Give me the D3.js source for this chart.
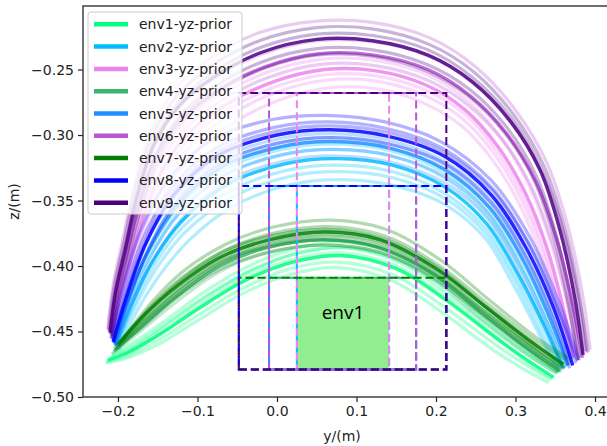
<!DOCTYPE html>
<html>
<head>
<meta charset="utf-8">
<script src="https://cdn.jsdelivr.net/npm/d3@7"></script>
<style>
  body { margin: 0; background: #fff; }
  svg { display: block; }
</style>
</head>
<body>
<svg id="chart" width="607" height="446"></svg>
<script>
// Sampled y-z trajectories (metres) for each environment prior.
const envNames = ["env1-yz-prior", "env2-yz-prior", "env3-yz-prior", "env4-yz-prior", "env5-yz-prior",
                  "env6-yz-prior", "env7-yz-prior", "env8-yz-prior", "env9-yz-prior"];
const envColors = ["#00ff7f", "#00bfff", "#ee82ee", "#3cb371", "#1e90ff", "#ba55d3", "#008000", "#0000ff", "#4b0082"];

const env1Paths = [
  [[-0.213,-0.472],[-0.187,-0.466],[-0.147,-0.452],[-0.100,-0.433],[-0.040,-0.411],[0.020,-0.397],[0.080,-0.392],[0.150,-0.402],[0.215,-0.427],[0.280,-0.457],[0.320,-0.474],[0.348,-0.485]],
  [[-0.210,-0.470],[-0.183,-0.463],[-0.143,-0.447],[-0.097,-0.427],[-0.037,-0.405],[0.023,-0.391],[0.083,-0.386],[0.153,-0.397],[0.218,-0.423],[0.283,-0.454],[0.323,-0.471],[0.352,-0.482]],
  [[-0.215,-0.473],[-0.190,-0.469],[-0.150,-0.457],[-0.103,-0.439],[-0.043,-0.417],[0.017,-0.402],[0.077,-0.397],[0.147,-0.407],[0.212,-0.432],[0.277,-0.461],[0.317,-0.477],[0.345,-0.487]],
  [[-0.208,-0.468],[-0.182,-0.461],[-0.142,-0.445],[-0.095,-0.425],[-0.035,-0.404],[0.025,-0.390],[0.085,-0.386],[0.155,-0.396],[0.220,-0.420],[0.285,-0.452],[0.325,-0.470],[0.354,-0.481]],
  [[-0.212,-0.471],[-0.186,-0.465],[-0.146,-0.451],[-0.099,-0.431],[-0.040,-0.409],[0.020,-0.395],[0.080,-0.390],[0.150,-0.400],[0.215,-0.425],[0.280,-0.456],[0.318,-0.475],[0.346,-0.486]],
  [[-0.216,-0.474],[-0.192,-0.471],[-0.153,-0.461],[-0.106,-0.444],[-0.046,-0.422],[0.014,-0.407],[0.074,-0.401],[0.144,-0.411],[0.209,-0.436],[0.274,-0.465],[0.314,-0.480],[0.342,-0.489]],
  [[-0.207,-0.467],[-0.180,-0.458],[-0.139,-0.441],[-0.092,-0.420],[-0.032,-0.399],[0.028,-0.386],[0.088,-0.382],[0.158,-0.393],[0.222,-0.418],[0.287,-0.450],[0.327,-0.468],[0.356,-0.480]]
];
const env2Paths = [
  [[-0.203,-0.461],[-0.185,-0.432],[-0.158,-0.398],[-0.120,-0.366],[-0.063,-0.338],[0.010,-0.322],[0.075,-0.318],[0.145,-0.323],[0.212,-0.340],[0.264,-0.368],[0.302,-0.405],[0.335,-0.444],[0.360,-0.478]],
  [[-0.201,-0.463],[-0.182,-0.436],[-0.154,-0.404],[-0.115,-0.374],[-0.058,-0.348],[0.013,-0.332],[0.078,-0.328],[0.148,-0.333],[0.213,-0.349],[0.262,-0.375],[0.298,-0.410],[0.330,-0.448],[0.356,-0.480]],
  [[-0.204,-0.460],[-0.187,-0.429],[-0.160,-0.393],[-0.123,-0.360],[-0.066,-0.331],[0.008,-0.315],[0.073,-0.311],[0.144,-0.316],[0.211,-0.333],[0.265,-0.362],[0.305,-0.400],[0.338,-0.441],[0.363,-0.477]],
  [[-0.202,-0.462],[-0.183,-0.434],[-0.156,-0.401],[-0.118,-0.370],[-0.060,-0.343],[0.012,-0.327],[0.076,-0.323],[0.146,-0.328],[0.212,-0.345],[0.263,-0.372],[0.300,-0.408],[0.333,-0.446],[0.358,-0.479]],
  [[-0.199,-0.464],[-0.180,-0.439],[-0.150,-0.409],[-0.110,-0.380],[-0.054,-0.354],[0.016,-0.338],[0.080,-0.334],[0.150,-0.339],[0.214,-0.354],[0.262,-0.379],[0.296,-0.413],[0.328,-0.450],[0.354,-0.481]],
  [[-0.205,-0.459],[-0.188,-0.427],[-0.162,-0.390],[-0.125,-0.356],[-0.068,-0.327],[0.006,-0.311],[0.072,-0.307],[0.143,-0.312],[0.211,-0.329],[0.266,-0.359],[0.307,-0.398],[0.340,-0.440],[0.365,-0.476]]
];
const env3Paths = [
  [[-0.207,-0.455],[-0.199,-0.428],[-0.185,-0.398],[-0.167,-0.360],[-0.144,-0.326],[-0.110,-0.298],[-0.062,-0.276],[-0.003,-0.259],[0.060,-0.250],[0.125,-0.251],[0.188,-0.262],[0.237,-0.281],[0.278,-0.309],[0.313,-0.345],[0.340,-0.387],[0.360,-0.432],[0.373,-0.470]],
  [[-0.205,-0.457],[-0.196,-0.431],[-0.182,-0.403],[-0.163,-0.366],[-0.139,-0.333],[-0.105,-0.306],[-0.057,-0.284],[0.001,-0.267],[0.063,-0.258],[0.127,-0.259],[0.187,-0.270],[0.234,-0.288],[0.274,-0.315],[0.308,-0.350],[0.335,-0.391],[0.356,-0.435],[0.370,-0.472]],
  [[-0.209,-0.453],[-0.201,-0.425],[-0.188,-0.394],[-0.170,-0.354],[-0.148,-0.319],[-0.115,-0.290],[-0.067,-0.268],[-0.007,-0.251],[0.057,-0.242],[0.123,-0.243],[0.189,-0.254],[0.240,-0.274],[0.283,-0.303],[0.318,-0.340],[0.345,-0.383],[0.365,-0.429],[0.377,-0.468]],
  [[-0.206,-0.456],[-0.198,-0.430],[-0.184,-0.400],[-0.165,-0.363],[-0.142,-0.329],[-0.108,-0.302],[-0.060,-0.280],[-0.001,-0.263],[0.061,-0.254],[0.126,-0.255],[0.188,-0.266],[0.236,-0.284],[0.276,-0.312],[0.310,-0.347],[0.337,-0.389],[0.358,-0.433],[0.371,-0.471]],
  [[-0.204,-0.458],[-0.195,-0.434],[-0.180,-0.407],[-0.160,-0.371],[-0.136,-0.339],[-0.101,-0.312],[-0.053,-0.290],[0.004,-0.273],[0.065,-0.264],[0.128,-0.265],[0.186,-0.276],[0.232,-0.293],[0.271,-0.319],[0.305,-0.353],[0.332,-0.393],[0.353,-0.437],[0.368,-0.473]]
];
const env4Paths = [
  [[-0.205,-0.465],[-0.170,-0.446],[-0.128,-0.424],[-0.072,-0.400],[-0.012,-0.386],[0.058,-0.380],[0.128,-0.386],[0.198,-0.407],[0.258,-0.436],[0.318,-0.464],[0.356,-0.480]],
  [[-0.200,-0.462],[-0.165,-0.441],[-0.124,-0.418],[-0.068,-0.394],[-0.008,-0.381],[0.062,-0.376],[0.132,-0.382],[0.202,-0.404],[0.262,-0.433],[0.322,-0.462],[0.360,-0.477]],
  [[-0.208,-0.467],[-0.172,-0.450],[-0.130,-0.429],[-0.074,-0.405],[-0.014,-0.390],[0.056,-0.384],[0.126,-0.389],[0.196,-0.410],[0.256,-0.440],[0.316,-0.468],[0.352,-0.482]],
  [[-0.202,-0.463],[-0.167,-0.444],[-0.126,-0.421],[-0.070,-0.398],[-0.010,-0.384],[0.060,-0.379],[0.130,-0.385],[0.200,-0.406],[0.260,-0.436],[0.320,-0.465],[0.358,-0.481]],
  [[-0.197,-0.459],[-0.162,-0.436],[-0.121,-0.412],[-0.066,-0.390],[-0.006,-0.377],[0.064,-0.372],[0.134,-0.379],[0.204,-0.402],[0.264,-0.431],[0.324,-0.460],[0.363,-0.475]]
];
const env5Paths = [
  [[-0.205,-0.459],[-0.189,-0.428],[-0.163,-0.390],[-0.127,-0.355],[-0.071,-0.325],[0.004,-0.309],[0.070,-0.305],[0.142,-0.310],[0.210,-0.326],[0.268,-0.356],[0.310,-0.396],[0.342,-0.438],[0.366,-0.476]],
  [[-0.207,-0.457],[-0.191,-0.424],[-0.166,-0.384],[-0.130,-0.349],[-0.074,-0.319],[0.001,-0.303],[0.068,-0.299],[0.140,-0.304],[0.210,-0.320],[0.270,-0.350],[0.313,-0.391],[0.346,-0.434],[0.370,-0.474]],
  [[-0.203,-0.461],[-0.186,-0.431],[-0.160,-0.394],[-0.124,-0.360],[-0.068,-0.331],[0.006,-0.315],[0.072,-0.311],[0.144,-0.316],[0.212,-0.332],[0.266,-0.360],[0.306,-0.400],[0.338,-0.441],[0.362,-0.478]],
  [[-0.205,-0.458],[-0.188,-0.426],[-0.162,-0.387],[-0.126,-0.352],[-0.070,-0.322],[0.004,-0.306],[0.070,-0.302],[0.142,-0.307],[0.211,-0.323],[0.269,-0.353],[0.311,-0.393],[0.344,-0.436],[0.368,-0.475]],
  [[-0.202,-0.462],[-0.185,-0.434],[-0.158,-0.398],[-0.121,-0.365],[-0.065,-0.336],[0.008,-0.320],[0.074,-0.316],[0.145,-0.321],[0.212,-0.337],[0.265,-0.364],[0.304,-0.403],[0.336,-0.443],[0.360,-0.479]]
];
const env6Paths = [
  [[-0.209,-0.452],[-0.202,-0.423],[-0.190,-0.393],[-0.173,-0.352],[-0.152,-0.316],[-0.121,-0.288],[-0.075,-0.266],[-0.015,-0.248],[0.053,-0.238],[0.122,-0.239],[0.190,-0.250],[0.243,-0.270],[0.289,-0.299],[0.326,-0.336],[0.352,-0.380],[0.372,-0.430],[0.384,-0.470]],
  [[-0.211,-0.450],[-0.204,-0.419],[-0.192,-0.387],[-0.175,-0.345],[-0.154,-0.308],[-0.124,-0.279],[-0.078,-0.256],[-0.018,-0.238],[0.052,-0.228],[0.122,-0.229],[0.192,-0.240],[0.248,-0.261],[0.296,-0.292],[0.335,-0.331],[0.362,-0.377],[0.381,-0.428],[0.392,-0.466]],
  [[-0.207,-0.454],[-0.200,-0.427],[-0.187,-0.398],[-0.170,-0.358],[-0.149,-0.323],[-0.117,-0.296],[-0.071,-0.274],[-0.011,-0.256],[0.055,-0.246],[0.123,-0.247],[0.189,-0.258],[0.240,-0.277],[0.285,-0.305],[0.321,-0.341],[0.347,-0.384],[0.367,-0.432],[0.380,-0.472]],
  [[-0.213,-0.448],[-0.206,-0.414],[-0.194,-0.380],[-0.178,-0.335],[-0.158,-0.296],[-0.128,-0.265],[-0.083,-0.241],[-0.023,-0.222],[0.050,-0.213],[0.120,-0.214],[0.193,-0.226],[0.250,-0.248],[0.300,-0.281],[0.340,-0.322],[0.366,-0.370],[0.385,-0.424],[0.394,-0.464]]
];
const env7Paths = [
  [[-0.200,-0.460],[-0.166,-0.437],[-0.125,-0.415],[-0.070,-0.393],[-0.010,-0.380],[0.060,-0.374],[0.130,-0.380],[0.200,-0.402],[0.260,-0.430],[0.320,-0.458],[0.360,-0.475]],
  [[-0.205,-0.463],[-0.170,-0.443],[-0.125,-0.420],[-0.070,-0.397],[-0.010,-0.383],[0.060,-0.377],[0.130,-0.383],[0.200,-0.405],[0.260,-0.434],[0.320,-0.462],[0.355,-0.478]],
  [[-0.195,-0.457],[-0.160,-0.432],[-0.120,-0.409],[-0.065,-0.388],[-0.005,-0.375],[0.065,-0.370],[0.135,-0.377],[0.205,-0.400],[0.265,-0.429],[0.325,-0.457],[0.365,-0.472]],
  [[-0.200,-0.461],[-0.165,-0.440],[-0.125,-0.418],[-0.070,-0.396],[-0.010,-0.385],[0.055,-0.380],[0.125,-0.385],[0.195,-0.405],[0.255,-0.432],[0.315,-0.460],[0.358,-0.478]],
  [[-0.198,-0.458],[-0.163,-0.434],[-0.122,-0.411],[-0.068,-0.389],[-0.008,-0.377],[0.062,-0.372],[0.132,-0.379],[0.202,-0.401],[0.262,-0.431],[0.322,-0.461],[0.362,-0.478]],
  [[-0.193,-0.455],[-0.158,-0.428],[-0.118,-0.404],[-0.063,-0.383],[-0.003,-0.370],[0.067,-0.365],[0.137,-0.372],[0.207,-0.396],[0.267,-0.426],[0.327,-0.455],[0.366,-0.470]],
  [[-0.203,-0.464],[-0.168,-0.446],[-0.128,-0.425],[-0.073,-0.403],[-0.013,-0.390],[0.057,-0.384],[0.127,-0.389],[0.197,-0.409],[0.257,-0.437],[0.317,-0.465],[0.354,-0.481]]
];
const env8Paths = [
  [[-0.206,-0.458],[-0.190,-0.425],[-0.165,-0.383],[-0.130,-0.346],[-0.075,-0.316],[0.000,-0.300],[0.067,-0.296],[0.140,-0.301],[0.210,-0.316],[0.270,-0.346],[0.315,-0.388],[0.348,-0.432],[0.372,-0.476]],
  [[-0.208,-0.456],[-0.192,-0.420],[-0.167,-0.377],[-0.132,-0.340],[-0.077,-0.310],[-0.002,-0.294],[0.065,-0.290],[0.138,-0.295],[0.208,-0.310],[0.270,-0.340],[0.317,-0.383],[0.352,-0.430],[0.376,-0.474]],
  [[-0.204,-0.460],[-0.188,-0.429],[-0.163,-0.389],[-0.128,-0.352],[-0.073,-0.322],[0.002,-0.306],[0.069,-0.302],[0.142,-0.307],[0.212,-0.322],[0.270,-0.352],[0.313,-0.393],[0.345,-0.436],[0.368,-0.478]],
  [[-0.206,-0.457],[-0.190,-0.423],[-0.165,-0.380],[-0.130,-0.343],[-0.075,-0.313],[0.000,-0.297],[0.067,-0.293],[0.140,-0.298],[0.210,-0.313],[0.272,-0.343],[0.318,-0.385],[0.352,-0.431],[0.378,-0.472]],
  [[-0.209,-0.455],[-0.194,-0.416],[-0.170,-0.371],[-0.135,-0.333],[-0.080,-0.303],[-0.004,-0.288],[0.063,-0.285],[0.136,-0.290],[0.206,-0.305],[0.270,-0.335],[0.319,-0.379],[0.355,-0.428],[0.380,-0.472]]
];
const env9Paths = [
  [[-0.210,-0.451],[-0.203,-0.420],[-0.191,-0.388],[-0.175,-0.345],[-0.155,-0.308],[-0.125,-0.279],[-0.080,-0.256],[-0.020,-0.237],[0.050,-0.227],[0.120,-0.228],[0.190,-0.239],[0.245,-0.259],[0.293,-0.289],[0.331,-0.327],[0.356,-0.373],[0.375,-0.426],[0.385,-0.468]],
  [[-0.212,-0.449],[-0.205,-0.416],[-0.193,-0.383],[-0.177,-0.339],[-0.157,-0.301],[-0.127,-0.271],[-0.082,-0.247],[-0.022,-0.228],[0.050,-0.218],[0.120,-0.219],[0.192,-0.231],[0.248,-0.252],[0.297,-0.284],[0.336,-0.324],[0.362,-0.371],[0.381,-0.425],[0.390,-0.466]],
  [[-0.208,-0.453],[-0.201,-0.424],[-0.189,-0.393],[-0.173,-0.351],[-0.153,-0.315],[-0.123,-0.286],[-0.078,-0.263],[-0.018,-0.244],[0.050,-0.234],[0.120,-0.235],[0.188,-0.246],[0.242,-0.265],[0.289,-0.294],[0.326,-0.331],[0.351,-0.376],[0.370,-0.428],[0.380,-0.470]],
  [[-0.210,-0.450],[-0.203,-0.418],[-0.191,-0.385],[-0.175,-0.342],[-0.155,-0.305],[-0.125,-0.276],[-0.080,-0.252],[-0.020,-0.233],[0.050,-0.223],[0.120,-0.224],[0.190,-0.235],[0.246,-0.256],[0.295,-0.287],[0.333,-0.326],[0.359,-0.372],[0.378,-0.425],[0.388,-0.465]],
  [[-0.207,-0.454],[-0.200,-0.427],[-0.188,-0.397],[-0.171,-0.356],[-0.151,-0.320],[-0.121,-0.291],[-0.076,-0.268],[-0.016,-0.249],[0.050,-0.239],[0.120,-0.240],[0.187,-0.251],[0.240,-0.270],[0.286,-0.298],[0.323,-0.334],[0.348,-0.378],[0.367,-0.430],[0.378,-0.472]]
];
const envPaths = [env1Paths, env2Paths, env3Paths, env4Paths, env5Paths, env6Paths, env7Paths, env8Paths, env9Paths];

// Obstacle boxes for each environment: y extent and top height (all share the same floor).
const boxYMin = [0.025, 0.025, 0.025, -0.010, -0.010, -0.010, -0.048, -0.048, -0.048];
const boxYMax = [0.141, 0.141, 0.141, 0.175, 0.175, 0.175, 0.213, 0.213, 0.213];
const boxZTop = [-0.409, -0.339, -0.268, -0.409, -0.339, -0.268, -0.409, -0.339, -0.268];
const boxZFloor = -0.479;
const boxLabel = "env1";

const xTicks = [-0.2, -0.1, 0.0, 0.1, 0.2, 0.3, 0.4];
const yTicks = [-0.50, -0.45, -0.40, -0.35, -0.30, -0.25];

const svg = d3.select("#chart");
const plotLeft = 83, plotRight = 609, plotTop = 6, plotBottom = 397;
const font = "DejaVu Sans, sans-serif";

const x = d3.scaleLinear().domain([-0.244, 0.4176]).range([plotLeft, plotRight]);
const y = d3.scaleLinear().domain([-0.5, -0.2015]).range([plotBottom, plotTop]);

svg.append("defs").append("clipPath").attr("id", "plotClip")
  .append("rect").attr("x", plotLeft).attr("y", plotTop)
  .attr("width", plotRight - plotLeft).attr("height", plotBottom - plotTop);

const plot = svg.append("g").attr("clip-path", "url(#plotClip)");

const line = d3.line().x(d => x(d[0])).y(d => y(d[1])).curve(d3.curveCatmullRom.alpha(0.5));

// trajectories: the first sample of each prior is drawn strong, the rest translucent
envPaths.forEach((paths, i) => {
  const g = plot.append("g");
  paths.forEach((p, j) => {
    g.append("path")
      .attr("d", line(p))
      .attr("fill", "none")
      .attr("stroke", envColors[i])
      .attr("stroke-width", j === 0 ? 3.4 : 3.2)
      .attr("stroke-opacity", j === 0 ? 0.85 : 0.3)
      .attr("stroke-linecap", "butt");
  });
});

// obstacle boxes
boxYMin.forEach((y0, i) => {
  const y1 = boxYMax[i], zt = boxZTop[i];
  const d = `M${x(y0)},${y(boxZFloor)}L${x(y1)},${y(boxZFloor)}L${x(y1)},${y(zt)}L${x(y0)},${y(zt)}Z`;
  if (i === 0) {
    plot.append("path").attr("d", d).attr("fill", "#90ee90").attr("stroke", "none");
  } else {
    plot.append("path").attr("d", d).attr("fill", "none")
      .attr("stroke", envColors[i]).attr("stroke-width", 2)
      .attr("stroke-dasharray", "8,4");
  }
});

plot.append("text")
  .attr("x", x((boxYMin[0] + boxYMax[0]) / 2))
  .attr("y", y(-0.435))
  .attr("text-anchor", "middle")
  .attr("dominant-baseline", "central")
  .attr("font-family", "Open Sans, sans-serif")
  .attr("font-size", 19)
  .attr("fill", "#000")
  .text(boxLabel);

// axes
const xAxis = d3.axisBottom(x).tickValues(xTicks).tickFormat(d3.format(".1f")).tickSize(5).tickPadding(4);
const yAxis = d3.axisLeft(y).tickValues(yTicks).tickFormat(d3.format(".2f")).tickSize(5).tickPadding(4);

const gx = svg.append("g").attr("transform", `translate(0,${plotBottom})`).call(xAxis);
const gy = svg.append("g").attr("transform", `translate(${plotLeft},0)`).call(yAxis);
[gx, gy].forEach(g => {
  g.select(".domain").remove();
  g.selectAll(".tick line").attr("stroke", "#222").attr("stroke-width", 1.2);
  g.selectAll(".tick text").attr("font-family", font).attr("font-size", 14).attr("fill", "#222");
});

// spines
svg.append("rect").attr("x", plotLeft).attr("y", plotTop)
  .attr("width", plotRight - plotLeft).attr("height", plotBottom - plotTop)
  .attr("fill", "none").attr("stroke", "#333").attr("stroke-width", 1.4);

svg.append("text").attr("x", (plotLeft + 601) / 2).attr("y", 441)
  .attr("text-anchor", "middle").attr("font-family", font).attr("font-size", 14).attr("fill", "#222")
  .text("y/(m)");
svg.append("text").attr("transform", `translate(19,${(plotTop + plotBottom) / 2}) rotate(-90)`)
  .attr("text-anchor", "middle").attr("font-family", font).attr("font-size", 14).attr("fill", "#222")
  .text("z/(m)");

// legend
const lg = svg.append("g");
lg.append("rect").attr("x", 88).attr("y", 12).attr("width", 154).attr("height", 202)
  .attr("rx", 3).attr("fill", "#fff").attr("fill-opacity", 0.8).attr("stroke", "#ccc").attr("stroke-width", 1);
envNames.forEach((name, i) => {
  const cy = 24.3 + i * 22.3;
  lg.append("line").attr("x1", 94).attr("x2", 128).attr("y1", cy).attr("y2", cy)
    .attr("stroke", envColors[i]).attr("stroke-width", 4.5);
  lg.append("text").attr("x", 139).attr("y", cy).attr("dominant-baseline", "central")
    .attr("font-family", font).attr("font-size", 14).attr("fill", "#222").text(name);
});
</script>
</body>
</html>
